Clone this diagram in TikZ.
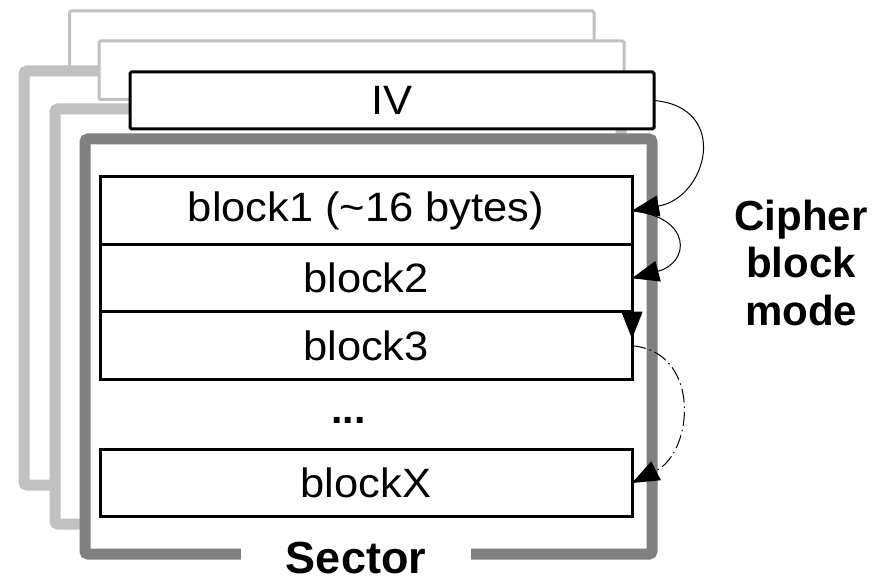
\documentclass[tikz,border=0pt]{standalone}
\usepackage{fontspec}
\setmainfont{Liberation Sans}
\newfontfamily\blockfont[FakeStretch=1.06]{Liberation Sans}
\usetikzlibrary{arrows.meta,positioning}
\definecolor{backframe}{HTML}{C0C0C0}
\definecolor{rimgray}{HTML}{808080}
\tikzset{
  every node/.style={font=\blockfont\fontsize{41}{47}\selectfont},
  blockbox/.style={draw=black,line width=3pt,fill=white,minimum width=532pt,minimum height=67.5pt,inner sep=0pt,outer sep=0pt},
  ivbox/.style={draw=black,line width=3pt,fill=white,rounded corners=1.5pt,minimum width=524pt,minimum height=57pt,inner sep=0pt,outer sep=0pt},
  ghostiv/.style={draw=backframe,line width=3pt,fill=white,rounded corners=1.5pt},
  ghostframe/.style={draw=backframe,line width=11pt,fill=white,rounded corners=3pt},
  sectorrim/.style={draw=rimgray,line width=11pt,fill=white,rounded corners=3pt},
  chain/.style={-{Triangle[length=27pt,width=21pt]},line width=1pt,draw=black},
  chaingap/.style={chain,dash pattern=on 14pt off 4pt on 1.5pt off 4pt},
  heading/.style={font=\fontsize{42}{47}\selectfont\bfseries,align=center},
}

\begin{document}
\begin{tikzpicture}[x=1pt,y=1pt]
\useasboundingbox (0,0) rectangle (886,579);

% sectors behind
\draw[ghostiv] (69.5,510) rectangle (594,568);
\draw[ghostframe] (24,94) rectangle (590,508);
\draw[ghostiv] (99,479.5) rectangle (624,538);
\draw[ghostframe] (55,55) rectangle (621,470);

% front sector
\node[ivbox] (iv) at (392,478.5) {IV};
\draw[sectorrim] (85,25) rectangle (652,440);

\node[blockbox] (block1) at (366,368.25) {block1 (\char`\~16 bytes)};
\node[blockbox,below=0pt of block1] (block2) {block2};
\node[blockbox,below=0pt of block2] (block3) {block3};
\node[font=\fontsize{41}{47}\selectfont\bfseries] (dots) at (348.5,159) {...};
\node[blockbox] (blockX) at (366,96) {blockX};

\node[font=\fontsize{45}{50}\selectfont\bfseries,fill=white,inner xsep=45pt,inner ysep=1pt,anchor=base] (sector) at (356,6) {Sector};

% chaining
\draw[chain] (iv.east) to[out=-5,in=10,looseness=1.75] (block1.east);
\draw[chain] (block1.east) to[out=-6,in=15,looseness=2.3] (block2.east);
\draw[chain,shorten >=7pt] (block2.east) -- (block3.east);
\draw[chaingap] (block3.east) to[out=-5,in=27,looseness=1.3] (blockX.east);

\node[heading,anchor=base] (mode) at (801,254) {Cipher\\block\\mode};

\end{tikzpicture}
\end{document}
